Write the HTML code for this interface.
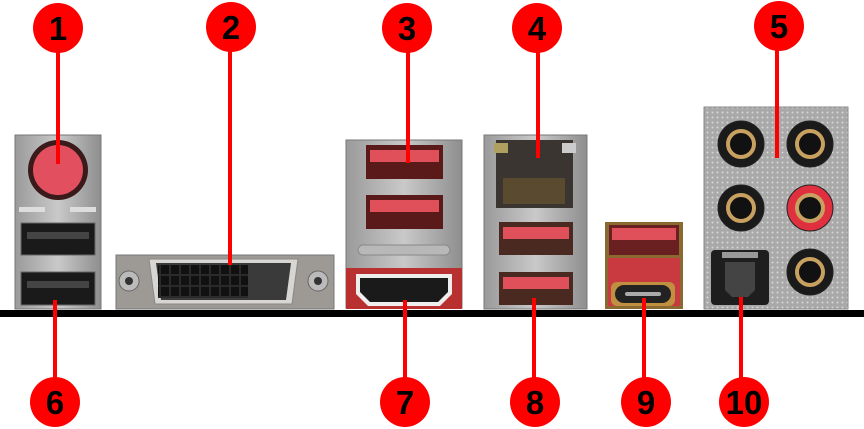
<!DOCTYPE html>
<html><head><meta charset="utf-8"><style>
html,body{margin:0;padding:0;background:#fff;width:864px;height:429px;overflow:hidden}
svg{display:block}
text{font-family:"Liberation Sans Narrow","Liberation Sans",sans-serif;font-weight:bold;font-size:33px;fill:#000;text-anchor:middle}
</style></head><body>
<svg width="864" height="429" viewBox="0 0 864 429">
<defs>
<linearGradient id="met" x1="0" y1="0" x2="1" y2="0"><stop offset="0" stop-color="#9a9a9a"/><stop offset=".5" stop-color="#c9c9c9"/><stop offset="1" stop-color="#8e8e8e"/></linearGradient>
<pattern id="dots" width="5" height="5" patternUnits="userSpaceOnUse"><rect width="5" height="5" fill="#a9a9a9"/><circle cx="2.5" cy="2.5" r="1" fill="#d8d8d8"/></pattern>
<pattern id="pins" width="10" height="11" patternUnits="userSpaceOnUse"><rect width="10" height="11" fill="#2a2a2a"/><rect x="1" y="1" width="8" height="9" fill="#111"/></pattern>
</defs>
<!-- panel 1/6 -->
<rect x="15" y="135" width="86" height="174" fill="url(#met)" stroke="#777"/>
<circle cx="58" cy="170" r="30" fill="#3a1a1a"/>
<circle cx="58" cy="170" r="25" fill="#e25060"/>
<rect x="19" y="207" width="26" height="5" fill="#ddd"/><rect x="70" y="207" width="26" height="5" fill="#ddd"/>
<rect x="21" y="223" width="74" height="32" fill="#1a1a1a" stroke="#666"/>
<rect x="27" y="232" width="62" height="7" fill="#444"/>
<rect x="21" y="272" width="74" height="33" fill="#1a1a1a" stroke="#666"/>
<rect x="27" y="281" width="62" height="7" fill="#444"/>
<!-- DVI -->
<rect x="116" y="255" width="218" height="54" fill="#9d9a95" stroke="#777"/>
<circle cx="129" cy="281" r="10" fill="#bbb" stroke="#666"/><circle cx="129" cy="281" r="4" fill="#333"/>
<circle cx="318" cy="281" r="10" fill="#bbb" stroke="#666"/><circle cx="318" cy="281" r="4" fill="#333"/>
<path d="M149 259 H298 L292 304 H155 Z" fill="#d8d6d2" stroke="#888"/>
<path d="M156 263 H291 L286 300 H161 Z" fill="#3a3a3a"/>
<rect x="158" y="265" width="90" height="33" fill="url(#pins)"/>
<!-- stack 3/7 -->
<rect x="346" y="140" width="116" height="168" fill="url(#met)" stroke="#777"/>
<rect x="366" y="145" width="77" height="34" fill="#5a1a1a"/><rect x="370" y="150" width="69" height="12" fill="#e0505a"/>
<rect x="366" y="195" width="77" height="34" fill="#5a1a1a"/><rect x="370" y="200" width="69" height="12" fill="#e0505a"/>
<rect x="358" y="245" width="92" height="10" rx="5" fill="#b8b8b8" stroke="#888"/>
<rect x="346" y="268" width="116" height="41" fill="#b83030"/>
<path d="M356 274 H452 V294 L440 306 H368 L356 294 Z" fill="#eee"/>
<path d="M360 278 H448 V292 L438 302 H370 L360 292 Z" fill="#1a1a1a"/>
<!-- stack 4/8 -->
<rect x="484" y="135" width="103" height="174" fill="url(#met)" stroke="#777"/>
<rect x="496" y="140" width="77" height="68" fill="#3a3530"/>
<rect x="494" y="143" width="14" height="10" fill="#b0a060"/><rect x="562" y="143" width="14" height="10" fill="#ccc"/>
<rect x="503" y="178" width="62" height="26" fill="#5a4a30"/>
<rect x="499" y="222" width="74" height="33" fill="#4a2a20"/><rect x="503" y="227" width="66" height="12" fill="#e0505a"/>
<rect x="499" y="272" width="74" height="33" fill="#4a2a20"/><rect x="503" y="277" width="66" height="12" fill="#e0505a"/>
<!-- usb 9 -->
<rect x="605" y="222" width="78" height="87" fill="#8a6a30"/>
<rect x="609" y="225" width="70" height="30" fill="#6a2020"/><rect x="612" y="228" width="64" height="12" fill="#e0505a"/>
<rect x="608" y="258" width="72" height="48" fill="#c83a40"/>
<rect x="611" y="282" width="64" height="24" rx="6" fill="#c09040"/>
<rect x="615" y="285" width="56" height="18" rx="9" fill="#222"/>
<rect x="625" y="292" width="36" height="4" rx="2" fill="#aaa"/>
<!-- audio 5/10 -->
<rect x="704" y="107" width="144" height="202" fill="url(#dots)" stroke="#888"/>
<g fill="#1a1a1a" stroke="#222">
<circle cx="741" cy="144" r="23"/><circle cx="810" cy="144" r="23"/>
<circle cx="741" cy="208" r="23"/><circle cx="810" cy="208" r="23" fill="#e03040"/>
<circle cx="810" cy="272" r="23"/></g>
<g fill="#111" stroke="#c8a060" stroke-width="4">
<circle cx="741" cy="144" r="13"/><circle cx="810" cy="144" r="13"/>
<circle cx="741" cy="208" r="13"/><circle cx="810" cy="208" r="13"/>
<circle cx="810" cy="272" r="13"/></g>
<rect x="711" y="250" width="58" height="55" rx="4" fill="#1e1e1e"/>
<rect x="722" y="252" width="36" height="6" fill="#999"/>
<path d="M725 262 H755 V290 L748 297 H732 L725 290 Z" fill="#444"/>
<!-- baseline -->
<rect x="0" y="310" width="864" height="7" fill="#000"/>
<!-- leader lines -->
<g stroke="#f00" stroke-width="4">
<line x1="58" y1="50" x2="58" y2="164"/>
<line x1="230" y1="50" x2="230" y2="265"/>
<line x1="408" y1="50" x2="408" y2="163"/>
<line x1="538" y1="50" x2="538" y2="158"/>
<line x1="777" y1="48" x2="777" y2="158"/>
<line x1="55" y1="300" x2="55" y2="380"/>
<line x1="405" y1="300" x2="405" y2="380"/>
<line x1="534" y1="298" x2="534" y2="380"/>
<line x1="644" y1="298" x2="644" y2="380"/>
<line x1="741" y1="297" x2="741" y2="380"/>
</g>
<g fill="#f00">
<circle cx="58" cy="28" r="25"/><circle cx="231" cy="27" r="25"/><circle cx="407" cy="28" r="25"/><circle cx="537" cy="28" r="25"/><circle cx="779" cy="26" r="25"/>
<circle cx="55" cy="402" r="25"/><circle cx="405" cy="402" r="25"/><circle cx="535" cy="402" r="25"/><circle cx="646" cy="402" r="25"/><circle cx="744" cy="402" r="25"/>
</g>
<text x="58" y="40">1</text><text x="231" y="39">2</text><text x="407" y="40">3</text><text x="537" y="40">4</text><text x="779" y="38">5</text>
<text x="55" y="414">6</text><text x="405" y="414">7</text><text x="535" y="414">8</text><text x="646" y="414">9</text><text x="744" y="414">10</text>
</svg>
</body></html>
